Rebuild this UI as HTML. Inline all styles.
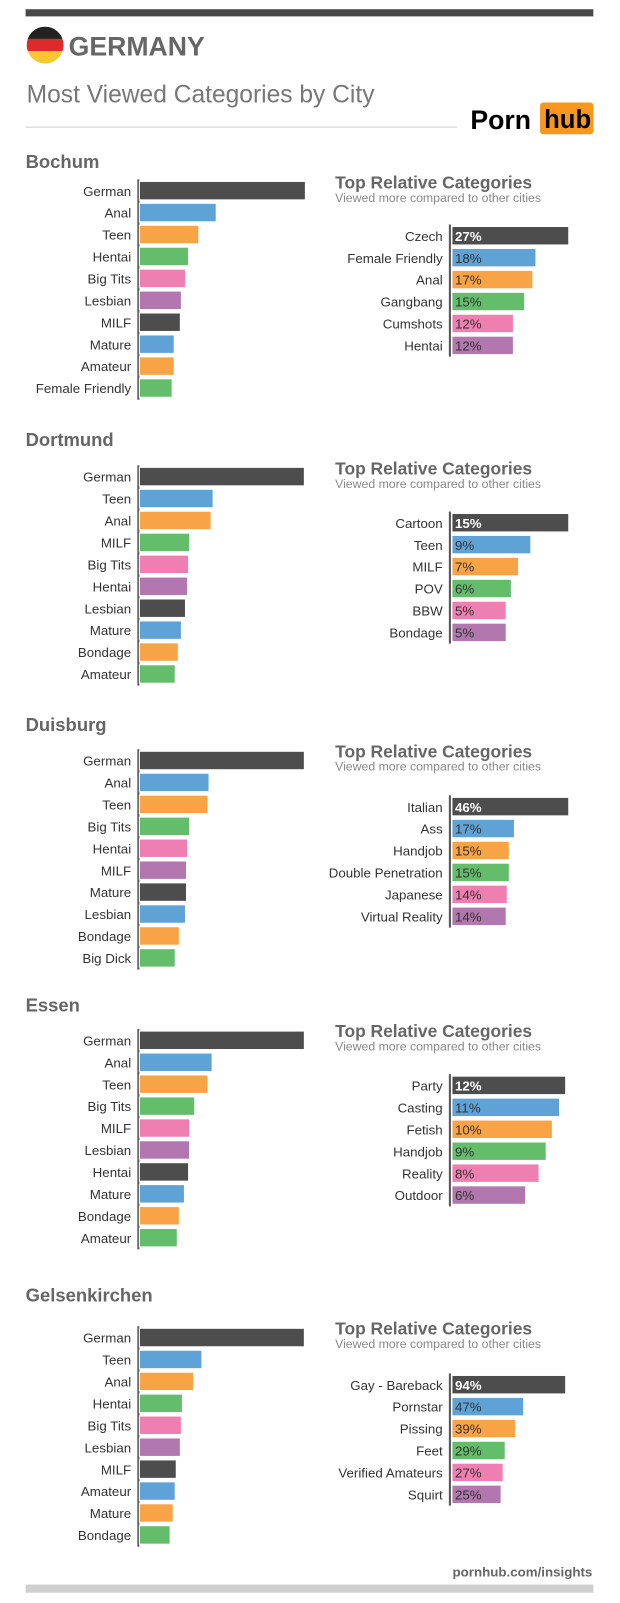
<!DOCTYPE html>
<html><head><meta charset="utf-8"><style>
html,body{margin:0;padding:0;background:#fff;width:620px;height:1603px;overflow:hidden}
svg{display:block}
.l{font:13px "Liberation Sans",sans-serif;fill:#333;text-anchor:end}
.p{font:13px "Liberation Sans",sans-serif;fill:#333}
.pw{font:bold 13px "Liberation Sans",sans-serif;fill:#fff}
.city{font:bold 18px "Liberation Sans",sans-serif;fill:#666}
.h{font:bold 17px "Liberation Sans",sans-serif;fill:#666}
.s{font:12px "Liberation Sans",sans-serif;fill:#888}
.ax{stroke:#555;stroke-width:2}
.c0{fill:#4d4d4d}.c1{fill:#5fa3d6}.c2{fill:#f8a345}.c3{fill:#63bd6b}.c4{fill:#ef7fb0}.c5{fill:#b177ae}
rect.b{stroke:#fff;stroke-width:1}
</style></head><body>
<svg width="620" height="1603" viewBox="0 0 605 1564" preserveAspectRatio="none" xmlns="http://www.w3.org/2000/svg">
<rect x="25" y="9" width="554" height="7" fill="#484848"/>
<defs><clipPath id="fc"><circle cx="44" cy="44" r="18"/></clipPath></defs>
<g clip-path="url(#fc)"><rect x="26" y="26" width="36" height="12" fill="#222"/><rect x="26" y="38" width="36" height="12" fill="#dd2a2a"/><rect x="26" y="50" width="36" height="12" fill="#f5c92d"/></g>
<text x="67" y="54" style="font:bold 26px 'Liberation Sans',sans-serif;fill:#666">GERMANY</text>
<text x="26" y="100" style="font:24px 'Liberation Sans',sans-serif;fill:#777">Most Viewed Categories by City</text>
<line x1="25" y1="124" x2="446" y2="124" stroke="#ccc" stroke-width="1"/>
<text x="459" y="126" style="font:bold 26px 'Liberation Sans',sans-serif;fill:#000">Porn</text>
<rect x="527" y="100" width="52" height="31" rx="3" fill="#f7971d"/>
<text x="531" y="125" style="font:bold 25px 'Liberation Sans',sans-serif;fill:#000">hub</text>

<!-- Bochum -->
<text class="city" x="25" y="164">Bochum</text>
<g transform="translate(0,186)">
<line class="ax" x1="135" y1="-11" x2="135" y2="204"/>
<rect class="b c0" x="136" y="-9" width="162" height="18"/><text class="l" x="128" y="5">German</text>
<rect class="b c1" x="136" y="12.4" width="75" height="18"/><text class="l" x="128" y="26.4">Anal</text>
<rect class="b c2" x="136" y="33.8" width="58" height="18"/><text class="l" x="128" y="47.8">Teen</text>
<rect class="b c3" x="136" y="55.2" width="48" height="18"/><text class="l" x="128" y="69.2">Hentai</text>
<rect class="b c4" x="136" y="76.6" width="45" height="18"/><text class="l" x="128" y="90.6">Big Tits</text>
<rect class="b c5" x="136" y="98" width="41" height="18"/><text class="l" x="128" y="112">Lesbian</text>
<rect class="b c0" x="136" y="119.4" width="40" height="18"/><text class="l" x="128" y="133.4">MILF</text>
<rect class="b c1" x="136" y="140.8" width="34" height="18"/><text class="l" x="128" y="154.8">Mature</text>
<rect class="b c2" x="136" y="162.2" width="34" height="18"/><text class="l" x="128" y="176.2">Amateur</text>
<rect class="b c3" x="136" y="183.6" width="32" height="18"/><text class="l" x="128" y="197.6">Female Friendly</text>
</g>
<text class="h" x="327" y="184">Top Relative Categories</text>
<text class="s" x="327" y="197">Viewed more compared to other cities</text>
<g transform="translate(0,230)">
<line class="ax" x1="439" y1="-11" x2="439" y2="118"/>
<rect class="b c0" x="441" y="-9" width="114" height="18"/><text class="l" x="432" y="5">Czech</text><text class="pw" x="444" y="5">27%</text>
<rect class="b c1" x="441" y="12.4" width="82" height="18"/><text class="l" x="432" y="26.4">Female Friendly</text><text class="p" x="444" y="26.4">18%</text>
<rect class="b c2" x="441" y="33.8" width="79" height="18"/><text class="l" x="432" y="47.8">Anal</text><text class="p" x="444" y="47.8">17%</text>
<rect class="b c3" x="441" y="55.2" width="71" height="18"/><text class="l" x="432" y="69.2">Gangbang</text><text class="p" x="444" y="69.2">15%</text>
<rect class="b c4" x="441" y="76.6" width="60" height="18"/><text class="l" x="432" y="90.6">Cumshots</text><text class="p" x="444" y="90.6">12%</text>
<rect class="b c5" x="441" y="98" width="60" height="18"/><text class="l" x="432" y="112">Hentai</text><text class="p" x="444" y="112">12%</text>
</g>

<!-- Dortmund -->
<text class="city" x="25" y="435">Dortmund</text>
<g transform="translate(0,465)">
<line class="ax" x1="135" y1="-11" x2="135" y2="204"/>
<rect class="b c0" x="136" y="-9" width="161" height="18"/><text class="l" x="128" y="5">German</text>
<rect class="b c1" x="136" y="12.4" width="72" height="18"/><text class="l" x="128" y="26.4">Teen</text>
<rect class="b c2" x="136" y="33.8" width="70" height="18"/><text class="l" x="128" y="47.8">Anal</text>
<rect class="b c3" x="136" y="55.2" width="49" height="18"/><text class="l" x="128" y="69.2">MILF</text>
<rect class="b c4" x="136" y="76.6" width="48" height="18"/><text class="l" x="128" y="90.6">Big Tits</text>
<rect class="b c5" x="136" y="98" width="47" height="18"/><text class="l" x="128" y="112">Hentai</text>
<rect class="b c0" x="136" y="119.4" width="45" height="18"/><text class="l" x="128" y="133.4">Lesbian</text>
<rect class="b c1" x="136" y="140.8" width="41" height="18"/><text class="l" x="128" y="154.8">Mature</text>
<rect class="b c2" x="136" y="162.2" width="38" height="18"/><text class="l" x="128" y="176.2">Bondage</text>
<rect class="b c3" x="136" y="183.6" width="35" height="18"/><text class="l" x="128" y="197.6">Amateur</text>
</g>
<text class="h" x="327" y="463">Top Relative Categories</text>
<text class="s" x="327" y="476">Viewed more compared to other cities</text>
<g transform="translate(0,510)">
<line class="ax" x1="439" y1="-11" x2="439" y2="118"/>
<rect class="b c0" x="441" y="-9" width="114" height="18"/><text class="l" x="432" y="5">Cartoon</text><text class="pw" x="444" y="5">15%</text>
<rect class="b c1" x="441" y="12.4" width="77" height="18"/><text class="l" x="432" y="26.4">Teen</text><text class="p" x="444" y="26.4">9%</text>
<rect class="b c2" x="441" y="33.8" width="65" height="18"/><text class="l" x="432" y="47.8">MILF</text><text class="p" x="444" y="47.8">7%</text>
<rect class="b c3" x="441" y="55.2" width="58" height="18"/><text class="l" x="432" y="69.2">POV</text><text class="p" x="444" y="69.2">6%</text>
<rect class="b c4" x="441" y="76.6" width="53" height="18"/><text class="l" x="432" y="90.6">BBW</text><text class="p" x="444" y="90.6">5%</text>
<rect class="b c5" x="441" y="98" width="53" height="18"/><text class="l" x="432" y="112">Bondage</text><text class="p" x="444" y="112">5%</text>
</g>

<!-- Duisburg -->
<text class="city" x="25" y="713">Duisburg</text>
<g transform="translate(0,742)">
<line class="ax" x1="135" y1="-11" x2="135" y2="204"/>
<rect class="b c0" x="136" y="-9" width="161" height="18"/><text class="l" x="128" y="5">German</text>
<rect class="b c1" x="136" y="12.4" width="68" height="18"/><text class="l" x="128" y="26.4">Anal</text>
<rect class="b c2" x="136" y="33.8" width="67" height="18"/><text class="l" x="128" y="47.8">Teen</text>
<rect class="b c3" x="136" y="55.2" width="49" height="18"/><text class="l" x="128" y="69.2">Big Tits</text>
<rect class="b c4" x="136" y="76.6" width="47" height="18"/><text class="l" x="128" y="90.6">Hentai</text>
<rect class="b c5" x="136" y="98" width="46" height="18"/><text class="l" x="128" y="112">MILF</text>
<rect class="b c0" x="136" y="119.4" width="46" height="18"/><text class="l" x="128" y="133.4">Mature</text>
<rect class="b c1" x="136" y="140.8" width="45" height="18"/><text class="l" x="128" y="154.8">Lesbian</text>
<rect class="b c2" x="136" y="162.2" width="39" height="18"/><text class="l" x="128" y="176.2">Bondage</text>
<rect class="b c3" x="136" y="183.6" width="35" height="18"/><text class="l" x="128" y="197.6">Big Dick</text>
</g>
<text class="h" x="327" y="739">Top Relative Categories</text>
<text class="s" x="327" y="752">Viewed more compared to other cities</text>
<g transform="translate(0,787)">
<line class="ax" x1="439" y1="-11" x2="439" y2="118"/>
<rect class="b c0" x="441" y="-9" width="114" height="18"/><text class="l" x="432" y="5">Italian</text><text class="pw" x="444" y="5">46%</text>
<rect class="b c1" x="441" y="12.4" width="61" height="18"/><text class="l" x="432" y="26.4">Ass</text><text class="p" x="444" y="26.4">17%</text>
<rect class="b c2" x="441" y="33.8" width="56" height="18"/><text class="l" x="432" y="47.8">Handjob</text><text class="p" x="444" y="47.8">15%</text>
<rect class="b c3" x="441" y="55.2" width="56" height="18"/><text class="l" x="432" y="69.2">Double Penetration</text><text class="p" x="444" y="69.2">15%</text>
<rect class="b c4" x="441" y="76.6" width="54" height="18"/><text class="l" x="432" y="90.6">Japanese</text><text class="p" x="444" y="90.6">14%</text>
<rect class="b c5" x="441" y="98" width="53" height="18"/><text class="l" x="432" y="112">Virtual Reality</text><text class="p" x="444" y="112">14%</text>
</g>

<!-- Essen -->
<text class="city" x="25" y="987">Essen</text>
<g transform="translate(0,1015)">
<line class="ax" x1="135" y1="-11" x2="135" y2="204"/>
<rect class="b c0" x="136" y="-9" width="161" height="18"/><text class="l" x="128" y="5">German</text>
<rect class="b c1" x="136" y="12.4" width="71" height="18"/><text class="l" x="128" y="26.4">Anal</text>
<rect class="b c2" x="136" y="33.8" width="67" height="18"/><text class="l" x="128" y="47.8">Teen</text>
<rect class="b c3" x="136" y="55.2" width="54" height="18"/><text class="l" x="128" y="69.2">Big Tits</text>
<rect class="b c4" x="136" y="76.6" width="49" height="18"/><text class="l" x="128" y="90.6">MILF</text>
<rect class="b c5" x="136" y="98" width="49" height="18"/><text class="l" x="128" y="112">Lesbian</text>
<rect class="b c0" x="136" y="119.4" width="48" height="18"/><text class="l" x="128" y="133.4">Hentai</text>
<rect class="b c1" x="136" y="140.8" width="44" height="18"/><text class="l" x="128" y="154.8">Mature</text>
<rect class="b c2" x="136" y="162.2" width="39" height="18"/><text class="l" x="128" y="176.2">Bondage</text>
<rect class="b c3" x="136" y="183.6" width="37" height="18"/><text class="l" x="128" y="197.6">Amateur</text>
</g>
<text class="h" x="327" y="1012">Top Relative Categories</text>
<text class="s" x="327" y="1025">Viewed more compared to other cities</text>
<g transform="translate(0,1059)">
<line class="ax" x1="439" y1="-11" x2="439" y2="118"/>
<rect class="b c0" x="441" y="-9" width="111" height="18"/><text class="l" x="432" y="5">Party</text><text class="pw" x="444" y="5">12%</text>
<rect class="b c1" x="441" y="12.4" width="105" height="18"/><text class="l" x="432" y="26.4">Casting</text><text class="p" x="444" y="26.4">11%</text>
<rect class="b c2" x="441" y="33.8" width="98" height="18"/><text class="l" x="432" y="47.8">Fetish</text><text class="p" x="444" y="47.8">10%</text>
<rect class="b c3" x="441" y="55.2" width="92" height="18"/><text class="l" x="432" y="69.2">Handjob</text><text class="p" x="444" y="69.2">9%</text>
<rect class="b c4" x="441" y="76.6" width="85" height="18"/><text class="l" x="432" y="90.6">Reality</text><text class="p" x="444" y="90.6">8%</text>
<rect class="b c5" x="441" y="98" width="72" height="18"/><text class="l" x="432" y="112">Outdoor</text><text class="p" x="444" y="112">6%</text>
</g>

<!-- Gelsenkirchen -->
<text class="city" x="25" y="1270">Gelsenkirchen</text>
<g transform="translate(0,1305)">
<line class="ax" x1="135" y1="-11" x2="135" y2="204"/>
<rect class="b c0" x="136" y="-9" width="161" height="18"/><text class="l" x="128" y="5">German</text>
<rect class="b c1" x="136" y="12.4" width="61" height="18"/><text class="l" x="128" y="26.4">Teen</text>
<rect class="b c2" x="136" y="33.8" width="53" height="18"/><text class="l" x="128" y="47.8">Anal</text>
<rect class="b c3" x="136" y="55.2" width="42" height="18"/><text class="l" x="128" y="69.2">Hentai</text>
<rect class="b c4" x="136" y="76.6" width="41" height="18"/><text class="l" x="128" y="90.6">Big Tits</text>
<rect class="b c5" x="136" y="98" width="40" height="18"/><text class="l" x="128" y="112">Lesbian</text>
<rect class="b c0" x="136" y="119.4" width="36" height="18"/><text class="l" x="128" y="133.4">MILF</text>
<rect class="b c1" x="136" y="140.8" width="35" height="18"/><text class="l" x="128" y="154.8">Amateur</text>
<rect class="b c2" x="136" y="162.2" width="33" height="18"/><text class="l" x="128" y="176.2">Mature</text>
<rect class="b c3" x="136" y="183.6" width="30" height="18"/><text class="l" x="128" y="197.6">Bondage</text>
</g>
<text class="h" x="327" y="1302">Top Relative Categories</text>
<text class="s" x="327" y="1315">Viewed more compared to other cities</text>
<g transform="translate(0,1351)">
<line class="ax" x1="439" y1="-11" x2="439" y2="118"/>
<rect class="b c0" x="441" y="-9" width="111" height="18"/><text class="l" x="432" y="5">Gay - Bareback</text><text class="pw" x="444" y="5">94%</text>
<rect class="b c1" x="441" y="12.4" width="70" height="18"/><text class="l" x="432" y="26.4">Pornstar</text><text class="p" x="444" y="26.4">47%</text>
<rect class="b c2" x="441" y="33.8" width="62" height="18"/><text class="l" x="432" y="47.8">Pissing</text><text class="p" x="444" y="47.8">39%</text>
<rect class="b c3" x="441" y="55.2" width="52" height="18"/><text class="l" x="432" y="69.2">Feet</text><text class="p" x="444" y="69.2">29%</text>
<rect class="b c4" x="441" y="76.6" width="50" height="18"/><text class="l" x="432" y="90.6">Verified Amateurs</text><text class="p" x="444" y="90.6">27%</text>
<rect class="b c5" x="441" y="98" width="48" height="18"/><text class="l" x="432" y="112">Squirt</text><text class="p" x="444" y="112">25%</text>
</g>

<text x="578" y="1538" text-anchor="end" style="font:bold 13px 'Liberation Sans',sans-serif;fill:#666">pornhub.com/insights</text>
<rect x="25" y="1546" width="554" height="8" fill="#cfcfcf"/>
</svg>
</body></html>
